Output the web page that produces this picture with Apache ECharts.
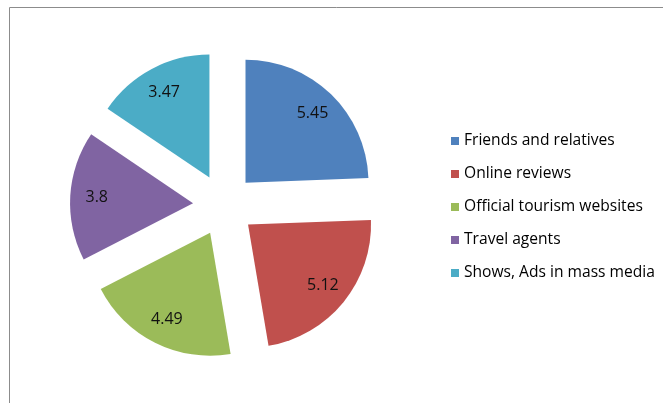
<!DOCTYPE html>
<html>
<head>
<meta charset="utf-8">
<script src="https://cdn.jsdelivr.net/npm/echarts@6/dist/echarts.min.js"></script>
<style>
  html, body { margin: 0; padding: 0; background: #fff; }
  #chart { width: 663px; height: 403px; }
</style>
</head>
<body>
<div id="chart"></div>
<script>
const categories = [
  "Friends and relatives",
  "Online reviews",
  "Official tourism websites",
  "Travel agents",
  "Shows, Ads in mass media",
];
const values = [5.45, 5.12, 4.49, 3.8, 3.47];
const colors = ["#4F81BD", "#C0504D", "#9BBB59", "#8064A2", "#4BACC6"];

const FONT = "'Open Sans', Lato, sans-serif";
const center = [224, 205];
const offset = 31;

const chart = echarts.init(document.getElementById("chart"), null, { renderer: "canvas" });

const sliceData = categories.map((name, i) => ({
  name,
  value: values[i],
  selected: true,
  itemStyle: { color: colors[i] },
}));

const labelData = categories.map((name, i) => ({
  name,
  value: values[i],
  selected: true,
}));

chart.setOption({
  backgroundColor: "#fff",
  animation: false,
  color: colors,
  legend: {
    orient: "vertical",
    left: 446,
    top: 128,
    itemWidth: 8,
    itemHeight: 8,
    itemGap: 17,
    icon: "rect",
    selectedMode: false,
    textStyle: { color: "#000", fontSize: 15.6, lineHeight: 16, fontFamily: FONT },
    data: categories.map((name, i) => ({ name, itemStyle: { color: colors[i] } })),
  },
  graphic: [
    { type: "line", shape: { x1: 9.5, y1: 7.5, x2: 663, y2: 7.5 }, style: { stroke: "#8c8c8c", lineWidth: 1 }, silent: true },
    { type: "line", shape: { x1: 9.5, y1: 7.5, x2: 9.5, y2: 403 }, style: { stroke: "#8c8c8c", lineWidth: 1 }, silent: true },
  ],
  series: [
    {
      type: "pie",
      center,
      radius: 123,
      startAngle: 90,
      clockwise: true,
      selectedMode: "multiple",
      selectedOffset: offset,
      label: { show: false },
      labelLine: { show: false },
      emphasis: { disabled: true },
      select: { itemStyle: { borderWidth: 0 } },
      data: sliceData,
    },
    {
      type: "pie",
      center,
      radius: [64, 123],
      startAngle: 90,
      clockwise: true,
      silent: true,
      selectedMode: "multiple",
      selectedOffset: offset,
      itemStyle: { color: "rgba(0,0,0,0)" },
      select: { itemStyle: { color: "rgba(0,0,0,0)" } },
      emphasis: { disabled: true },
      label: {
        show: true,
        position: "inside",
        color: "#111",
        fontSize: 16,
        fontFamily: FONT,
        formatter: (p) => String(p.value),
      },
      labelLine: { show: false },
      data: labelData,
    },
  ],
});
</script>
</body>
</html>
